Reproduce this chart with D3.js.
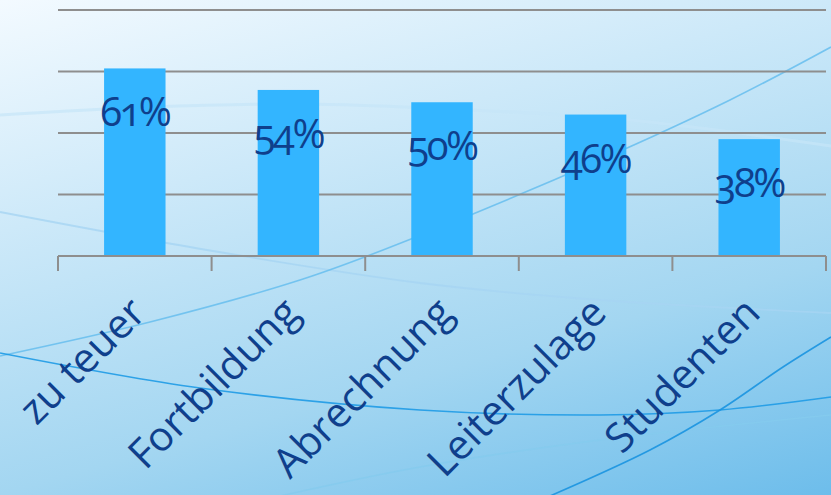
<!DOCTYPE html>
<html>
<head>
<meta charset="utf-8">
<script src="https://cdn.jsdelivr.net/npm/d3@7"></script>
<style>
  html, body { margin: 0; padding: 0; overflow: hidden; }
  svg { display: block; }
</style>
</head>
<body>
<svg id="chart" width="831" height="495"></svg>
<script>
// ---- data ----
const categories = ["zu teuer", "Fortbildung", "Abrechnung", "Leiterzulage", "Studenten"];
const values = [61, 54, 50, 46, 38];
const valueLabels = ["61%", "54%", "50%", "46%", "38%"];
const yTicks = [0, 20, 40, 60, 80];

const W = 831, H = 495;
const svg = d3.select("#chart");

// ---- background ----
const defs = svg.append("defs");
const grad = defs.append("linearGradient").attr("id", "bg")
  .attr("gradientUnits", "userSpaceOnUse")
  .attr("x1", 0).attr("y1", 0).attr("x2", 188).attr("y2", 674);
[[0, "#f3faff"], [0.32, "#cde9f9"], [0.68, "#a3d6f1"], [1, "#6dbdeb"]].forEach(([o, c]) =>
  grad.append("stop").attr("offset", o).attr("stop-color", c));
svg.append("rect").attr("width", W).attr("height", H).attr("fill", "url(#bg)");

// decorative swooshes
const swooshes = [
  { pts: [[0,115],[150,107],[300,104],[450,109],[630,120],[831,146]], c: "#c6e5f8", w: 3, o: 0.7 },
  { pts: [[0,212],[207,250],[420,283],[600,300],[831,313]], c: "#a6d5f2", w: 1.8, o: 0.8 },
  { pts: [[0,356],[150,322],[300,280],[383,250],[600,160],[730,100],[831,47]], c: "#6cc0ee", w: 1.6, o: 0.9 },
  { pts: [[0,353],[200,388],[420,410],[600,415],[720,410],[831,397]], c: "#1f9be6", w: 1.6, o: 0.9 },
  { pts: [[280,496],[420,467],[600,440],[831,415]], c: "#84caee", w: 1.6, o: 0.8 },
  { pts: [[550,496],[650,450],[720,410],[783,367],[831,337]], c: "#1a94e0", w: 1.6, o: 0.9 }
];
const swLine = d3.line().curve(d3.curveCatmullRom);
svg.append("g").selectAll("path").data(swooshes).join("path")
  .attr("d", d => swLine(d.pts))
  .attr("fill", "none")
  .attr("stroke", d => d.c)
  .attr("stroke-width", d => d.w)
  .attr("opacity", d => d.o);

// ---- scales ----
const x = d3.scaleBand().domain(categories).range([58, 826]).paddingInner(0.6).paddingOuter(0.3);
const y = d3.scaleLinear().domain([0, 80]).range([256, 10]);

// gridlines
svg.append("g").selectAll("line").data(yTicks.filter(t => t > 0)).join("line")
  .attr("x1", 58).attr("x2", 826)
  .attr("y1", d => y(d)).attr("y2", d => y(d))
  .attr("stroke", "#8e8e8e").attr("stroke-width", 2);

// bars
svg.append("g").selectAll("rect").data(values).join("rect")
  .attr("x", (d, i) => x(categories[i]))
  .attr("y", d => y(d))
  .attr("width", x.bandwidth())
  .attr("height", d => y(0) - y(d))
  .attr("fill", "#33b5ff");

// x axis line + ticks at band boundaries
const step = x.step();
const boundaries = categories.map(c => x(c) - x.paddingOuter() * step).concat([826]);
const axisG = svg.append("g");
axisG.append("line").attr("x1", 58).attr("x2", 826).attr("y1", y(0)).attr("y2", y(0))
  .attr("stroke", "#8e8e8e").attr("stroke-width", 2);
axisG.selectAll("line.tick").data(boundaries).join("line").attr("class", "tick")
  .attr("x1", d => d).attr("x2", d => d).attr("y1", y(0)).attr("y2", y(0) + 15)
  .attr("stroke", "#8e8e8e").attr("stroke-width", 2);

// value labels
svg.append("g").selectAll("text").data(values).join("text")
  .attr("x", (d, i) => x(categories[i]) + x.bandwidth() / 2)
  .attr("y", d => y(d) + 58)
  .attr("text-anchor", "middle")
  .style("font-family", "'Open Sans', sans-serif")
  .style("font-size", "40px")
  .style("letter-spacing", "-2.5px")
  .style("font-variant-numeric", "oldstyle-nums")
  .attr("fill", "#0f3f8c")
  .text((d, i) => valueLabels[i]);

// category labels
svg.append("g").selectAll("text").data(categories).join("text")
  .attr("transform", d => `translate(${x(d) + x.bandwidth() / 2 + 13},315) rotate(-45)`)
  .attr("text-anchor", "end")
  .style("font-family", "'Open Sans', sans-serif")
  .style("font-size", "41px")
  .attr("fill", "#0f3f8c")
  .text(d => d);
</script>
</body>
</html>
